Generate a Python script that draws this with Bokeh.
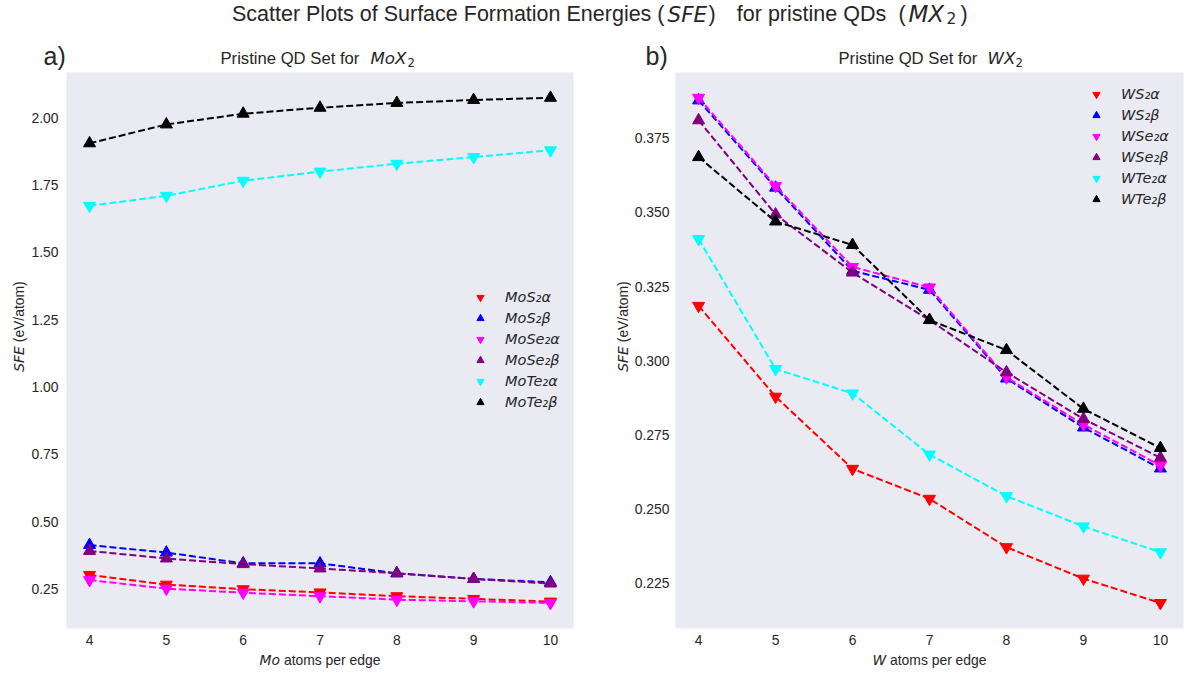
import math
from bokeh.plotting import figure
from bokeh.models import Label, Legend, LegendItem, FixedTicker, NumeralTickFormatter
from bokeh.layouts import column, row
from bokeh.embed import file_html
from bokeh.resources import INLINE

# ---------------- data ----------------
edges = [4, 5, 6, 7, 8, 9, 10]

mo_labels = ["MoS₂α", "MoS₂β", "MoSe₂α", "MoSe₂β", "MoTe₂α", "MoTe₂β"]
mos2_a = [0.302, 0.266, 0.249, 0.237, 0.223, 0.213, 0.203]
mos2_b = [0.413, 0.385, 0.345, 0.345, 0.308, 0.287, 0.275]
mose2_a = [0.283, 0.251, 0.236, 0.223, 0.210, 0.204, 0.198]
mose2_b = [0.391, 0.363, 0.342, 0.326, 0.308, 0.287, 0.270]
mote2_a = [1.673, 1.710, 1.766, 1.800, 1.829, 1.854, 1.879]
mote2_b = [1.905, 1.975, 2.015, 2.037, 2.055, 2.066, 2.074]

w_labels = ["WS₂α", "WS₂β", "WSe₂α", "WSe₂β", "WTe₂α", "WTe₂β"]
ws2_a = [0.3185, 0.2879, 0.2636, 0.2535, 0.2372, 0.2266, 0.2184]
ws2_b = [0.3877, 0.3583, 0.3303, 0.3239, 0.2940, 0.2775, 0.2637]
wse2_a = [0.3886, 0.3589, 0.3316, 0.3247, 0.2944, 0.2785, 0.2647]
wse2_b = [0.3810, 0.3493, 0.3297, 0.3137, 0.2961, 0.2804, 0.2673]
wte2_a = [0.3410, 0.2972, 0.2890, 0.2684, 0.2544, 0.2442, 0.2355]
wte2_b = [0.3686, 0.3469, 0.3390, 0.3137, 0.3036, 0.2838, 0.2706]

mo_yticks = [0.25, 0.50, 0.75, 1.00, 1.25, 1.50, 1.75, 2.00]
w_yticks = [0.225, 0.250, 0.275, 0.300, 0.325, 0.350, 0.375]

colors = ["#FF0000", "#0000FF", "#FF00FF", "#800080", "#00FFFF", "#000000"]
markers = ["inverted_triangle", "triangle"] * 3

TXT = "#262626"
SANS = "Liberation Sans"
MATH = "DejaVu Sans"
HEADER_H = 72
PANEL_H = 580          # frame (556) + tick label area
FOOTER_H = 673 - HEADER_H - PANEL_H
DY = 5.5               # baseline compensation


def lab(p, x, y, text, size, font=SANS, style="normal", align="left",
        baseline="alphabetic", angle=0.0):
    p.add_layout(Label(x=x, y=y, x_units="screen", y_units="screen", text=text,
                       text_font=font, text_font_size=size, text_font_style=style,
                       text_align=align, text_baseline=baseline, text_color=TXT,
                       angle=angle))


def blank(width, height):
    f = figure(width=width, height=height, x_range=(0, 1), y_range=(0, 1),
               output_backend="svg", toolbar_location=None, title=None,
               min_border=0, x_axis_location=None, y_axis_location=None,
               outline_line_color=None, background_fill_color="white",
               border_fill_color="white")
    f.grid.grid_line_color = None
    f.scatter([0.5], [0.5], size=0, alpha=0)
    return f


def panel(width, left, right, yrange, yticks, fmt, series, labels, legend_loc, ystand):
    p = figure(width=width, height=PANEL_H, x_range=(3.7, 10.3), y_range=yrange,
               output_backend="svg", toolbar_location=None, title=None,
               min_border_left=left, min_border_right=right, min_border_top=0,
               min_border_bottom=PANEL_H - 556,
               background_fill_color="#EAEAF2", border_fill_color="white",
               outline_line_color=None)
    p.grid.grid_line_color = None
    for ax in (p.xaxis[0], p.yaxis[0]):
        ax.axis_line_color = None
        ax.major_tick_line_color = None
        ax.minor_tick_line_color = None
        ax.major_tick_out = 0
        ax.major_tick_in = 0
        ax.major_label_text_font = SANS
        ax.major_label_text_font_size = "13.9px"
        ax.major_label_text_color = TXT
    p.xaxis.ticker = FixedTicker(ticks=edges)
    p.xaxis.major_label_standoff = 6
    p.yaxis.ticker = FixedTicker(ticks=yticks)
    p.yaxis.formatter = NumeralTickFormatter(format=fmt)
    p.yaxis.major_label_standoff = ystand

    items = []
    for vals, c, m, lb in zip(series, colors, markers, labels):
        p.line(edges, vals, line_color=c, line_dash="7 3", line_width=2)
        r = p.scatter(edges, vals, marker=m, size=12, fill_color=c, line_color=c)
        items.append(LegendItem(label=lb, renderers=[r]))
    leg = Legend(items=items, location=legend_loc, border_line_color=None,
                 background_fill_alpha=0, glyph_width=20, glyph_height=18,
                 label_height=18, spacing=3, padding=10, margin=0,
                 label_standoff=15, label_text_font=MATH,
                 label_text_font_style="italic", label_text_font_size="14.5px",
                 label_text_color=TXT)
    p.add_layout(leg, "center")
    return p


# left: ylabel strip 28px + panel 572px (frame 66..573)
left_p = panel(572, 38, 27, (0.103, 2.168), mo_yticks, "0.00",
               [mos2_a, mos2_b, mose2_a, mose2_b, mote2_a, mote2_b],
               mo_labels, (404, 217), 8)
# right: ylabel strip 31px (600..631) + panel 568px (frame 675..1183)
right_p = panel(568, 44, 16, (0.2098, 0.3971), w_yticks, "0.000",
                [ws2_a, ws2_b, wse2_a, wse2_b, wte2_a, wte2_b],
                w_labels, (411, 420), 6)


def ylabel_strip(width, xc):
    f = blank(width, PANEL_H)
    cy = (HEADER_H + PANEL_H) - 350
    ytot = 25.6 + 3.9 + 61.0
    y0 = cy - ytot / 2
    lab(f, xc, y0, "SFE", "13.9px", font=MATH, style="italic",
        baseline="middle", angle=math.pi / 2)
    lab(f, xc, y0 + 25.6 + 3.9, "(eV/atom)", "13.9px",
        baseline="middle", angle=math.pi / 2)
    return f


ylab_a = ylabel_strip(28, 18)
ylab_b = ylabel_strip(31, 22)

# ---------------- header with titles ----------------
h = blank(1199, HEADER_H)


def hy(page_y):
    return HEADER_H - page_y + DY


TS = "21.5px"
lab(h, 664, hy(19), "Scatter Plots of Surface Formation Energies (", TS, align="right")
lab(h, 667, hy(19), "SFE", TS, font=MATH, style="italic")
lab(h, 708, hy(19), ")", TS)
lab(h, 811, hy(19), "for pristine QDs", TS, align="center")
lab(h, 898, hy(19), "(", TS)
lab(h, 908, hy(19), "MX", "23px", font=MATH, style="italic")
lab(h, 946, hy(23), "2", "15.5px", font=MATH)
lab(h, 960, hy(19), ")", TS)

lab(h, 43, hy(61), "a)", "25px")
lab(h, 645, hy(61), "b)", "25px")

lab(h, 220, hy(63.5), "Pristine QD Set for", "16.67px")
lab(h, 370, hy(63.5), "MoX", "16.67px", font=MATH, style="italic")
lab(h, 407, hy(67), "2", "11.7px", font=MATH)
lab(h, 838, hy(63.5), "Pristine QD Set for", "16.67px")
lab(h, 987, hy(63.5), "WX", "16.67px", font=MATH, style="italic")
lab(h, 1015, hy(67), "2", "11.7px", font=MATH)

# ---------------- footer with x-axis labels ----------------
ft = blank(1199, FOOTER_H)


def fy(page_y):
    return 673 - page_y + DY


def xlabel(center, metal, mw):
    total = mw + 3.9 + 96.6
    x0 = center - total / 2
    lab(ft, x0, fy(665), metal, "13.9px", font=MATH, style="italic")
    lab(ft, x0 + mw + 3.9, fy(665), "atoms per edge", "13.9px")


xlabel(319.5, "Mo", 20.5)
xlabel(929, "W", 13.7)

layout = column(h, row(ylab_a, left_p, ylab_b, right_p), ft)
open("out.html", "w").write(file_html(layout, INLINE))
